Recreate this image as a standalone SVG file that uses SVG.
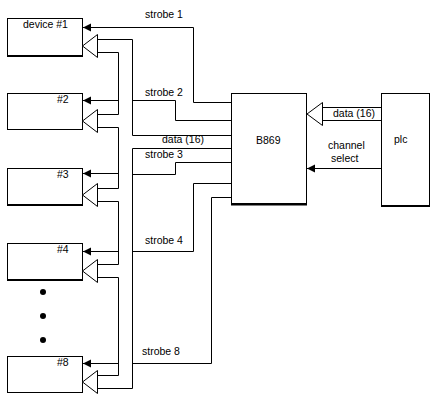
<svg xmlns="http://www.w3.org/2000/svg" width="444" height="412" viewBox="0 0 444 412">
<style>
.box{fill:#fff;stroke:#000;stroke-width:1}
.sh{stroke:#000;stroke-width:2}
.w{fill:none;stroke:#000;stroke-width:1}
.hollow{fill:#fff;stroke:#000;stroke-width:1}
text{font-family:"Liberation Sans",Arial,sans-serif;font-size:10.5px;fill:#000}
</style>
<defs>
<marker id="fa" markerUnits="userSpaceOnUse" markerWidth="9" markerHeight="9" refX="8" refY="4.5" orient="auto">
<path d="M0,0.5 L8,4.5 L0,8.5 Z" fill="#000"/>
</marker>
</defs>
<rect width="444" height="412" fill="#fff"/>
<g id="device1"><rect class="box" x="7.5" y="18.5" width="75" height="37"/><line class="sh" x1="7" y1="56" x2="83" y2="56"/><text x="23" y="28">device #1</text></g>
<g id="device2"><rect class="box" x="7.5" y="93.5" width="75" height="36"/><text x="57" y="103">#2</text></g>
<g id="device3"><rect class="box" x="7.5" y="168.5" width="75" height="36"/><line class="sh" x1="7" y1="205" x2="83" y2="205"/><text x="57" y="178">#3</text></g>
<g id="device4"><rect class="box" x="7.5" y="243.5" width="75" height="36"/><line class="sh" x1="7" y1="280" x2="83" y2="280"/><text x="57" y="253">#4</text></g>
<g id="dots"><circle cx="43" cy="292" r="3"/><circle cx="43" cy="316" r="3"/><circle cx="43" cy="340" r="3"/></g>
<g id="device8"><rect class="box" x="7.5" y="356.5" width="75" height="36"/><text x="57" y="366">#8</text></g>
<g id="b869"><rect class="box" x="231.5" y="93.5" width="75" height="110"/><line class="sh" x1="231" y1="204.5" x2="307" y2="204.5"/><text x="256" y="144">B869</text></g>
<g id="plc"><rect class="box" x="381.5" y="93.5" width="48" height="112"/><line class="sh" x1="381" y1="206" x2="430" y2="206"/><text x="394" y="143">plc</text></g>
<g id="connectors">
<!-- strobes -->
<polyline class="w" points="231,102.5 193.5,102.5 193.5,27.5 83,27.5" marker-end="url(#fa)"/>
<polyline class="w" points="133,100.5 175.5,100.5 175.5,120.5 231,120.5"/>
<polyline class="w" points="133,174.5 175.5,174.5 175.5,162.5 231,162.5"/>
<polyline class="w" points="133,251.5 193.5,251.5 193.5,183.5 231,183.5"/>
<polyline class="w" points="133,363.5 211.5,363.5 211.5,197.5 231,197.5"/>
<!-- device strobe arrows -->
<line class="w" x1="118.5" y1="100.5" x2="83" y2="100.5" marker-end="url(#fa)"/>
<line class="w" x1="118.5" y1="173.5" x2="83" y2="173.5" marker-end="url(#fa)"/>
<line class="w" x1="118.5" y1="251.5" x2="83" y2="251.5" marker-end="url(#fa)"/>
<line class="w" x1="118.5" y1="363.5" x2="83" y2="363.5" marker-end="url(#fa)"/>
<!-- data bus -->
<polyline class="w" points="97,39.5 132.5,39.5 132.5,135.5 231,135.5"/>
<polyline class="w" points="231,148.5 132.5,148.5 132.5,388.5 97,388.5"/>
<polyline class="w" points="97,52.5 118.5,52.5 118.5,114.5 97,114.5"/>
<polyline class="w" points="97,127.5 118.5,127.5 118.5,188.5 97,188.5"/>
<polyline class="w" points="97,201.5 118.5,201.5 118.5,264.5 97,264.5"/>
<polyline class="w" points="97,277.5 118.5,277.5 118.5,375.5 97,375.5"/>
<polygon class="hollow" points="82.5,46 97.5,34.5 97.5,57.5"/>
<polygon class="hollow" points="82.5,121 97.5,109.5 97.5,132.5"/>
<polygon class="hollow" points="82.5,195 97.5,183.5 97.5,206.5"/>
<polygon class="hollow" points="82.5,271 97.5,259.5 97.5,282.5"/>
<polygon class="hollow" points="82.5,382 97.5,370.5 97.5,393.5"/>
<!-- plc side -->
<line class="w" x1="322" y1="107.5" x2="381" y2="107.5"/>
<line class="w" x1="322" y1="120.5" x2="381" y2="120.5"/>
<polygon class="hollow" points="307,114 322.5,102.5 322.5,125.5"/>
<line class="w" x1="381" y1="168.5" x2="307" y2="168.5" marker-end="url(#fa)"/>
</g>
<g id="labels">
<text x="145" y="18">strobe 1</text>
<text x="145" y="96">strobe 2</text>
<text x="162" y="143">data (16)</text>
<text x="145" y="158">strobe 3</text>
<text x="145" y="244">strobe 4</text>
<text x="142" y="355">strobe 8</text>
<text x="333" y="117">data (16)</text>
<text x="328" y="149">channel</text>
<text x="331" y="162">select</text>
</g>
</svg>
